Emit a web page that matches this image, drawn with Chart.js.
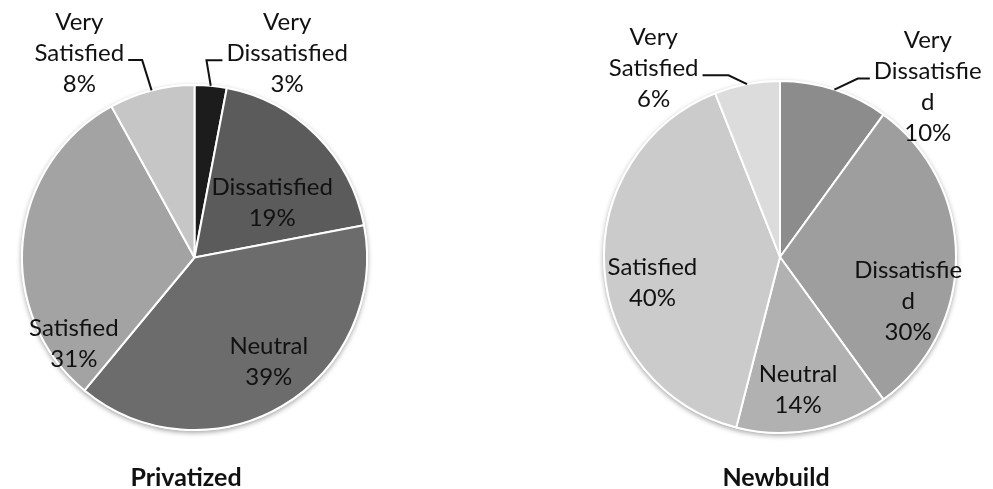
<!DOCTYPE html>
<html>
<head>
<meta charset="utf-8">
<script src="https://cdn.jsdelivr.net/npm/chart.js@4.4.0/dist/chart.umd.min.js"></script>
<style>
  body { margin: 0; background: #fff; width: 993px; height: 489px; position: relative; overflow: hidden; font-family: Lato, "Open Sans", sans-serif; }
  .pane { position: absolute; top: 0; height: 489px; }
  #left { left: 0; width: 400px; }
  #right { left: 400px; width: 593px; }
  .title { position: absolute; top: 462px; font-weight: bold; font-size: 25px; line-height: 28px; color: #111; transform: translateX(-50%); white-space: nowrap; }
</style>
</head>
<body>
<div class="pane" id="left"><canvas id="pieLeft"></canvas></div>
<div class="pane" id="right"><canvas id="pieRight"></canvas></div>
<div class="title" style="left:186px">Privatized</div>
<div class="title" style="left:776px">Newbuild</div>
<script>
// satisfaction survey, share of answers in %
var categories = ['Very Dissatisfied', 'Dissatisfied', 'Neutral', 'Satisfied', 'Very Satisfied'];
var privatizedValues = [3, 19, 39, 31, 8];
var newbuildValues = [10, 30, 14, 40, 6];

// how the category names wrap inside each pie
var privatizedLines = [['Very', 'Dissatisfied'], ['Dissatisfied'], ['Neutral'], ['Satisfied'], ['Very', 'Satisfied']];
var newbuildLines = [['Very', 'Dissatisfie', 'd'], ['Dissatisfie', 'd'], ['Neutral'], ['Satisfied'], ['Very', 'Satisfied']];

var privatizedColors = ['#1c1c1c', '#5b5b5b', '#6c6c6c', '#a3a3a3', '#c6c6c6'];
var newbuildColors = ['#8c8c8c', '#9e9e9e', '#b1b1b1', '#cbcbcb', '#dcdcdc'];

// label placement: fac = distance from centre in radii, shift = degrees off the slice middle,
// elbow = length of the leader's flat part (outside labels only)
var privatizedPlace = [
    { fac: 1.30, shift: 19, elbow: 16 },
    { fac: 0.55, shift: 10 },
    { fac: 0.74, shift: -5 },
    { fac: 0.86, shift: -41 },
    { fac: 1.36, shift: -15, elbow: 14 }
];
var newbuildPlace = [
    { fac: 1.28, shift: 23, elbow: 12 },
    { fac: 0.77, shift: 19 },
    { fac: 0.76, shift: 3 },
    { fac: 0.74, shift: -8 },
    { fac: 1.29, shift: -23, elbow: 26 }
];

var pieShadow = {
    id: 'pieShadow',
    beforeDatasetsDraw: function (chart) {
        var arc = chart.getDatasetMeta(0).data[0];
        var p = arc.getProps(['x', 'y', 'outerRadius'], true);
        var ctx = chart.ctx;
        ctx.save();
        ctx.shadowColor = 'rgba(0,0,0,0.35)';
        ctx.shadowBlur = 5;
        ctx.shadowOffsetY = 2;
        ctx.fillStyle = '#fff';
        ctx.beginPath();
        ctx.arc(p.x, p.y, p.outerRadius + 1, 0, Math.PI * 2);
        ctx.fill();
        ctx.restore();
    }
};

var sliceLabels = {
    id: 'sliceLabels',
    afterDatasetsDraw: function (chart, args, opts) {
        var ctx = chart.ctx;
        var meta = chart.getDatasetMeta(0);
        var values = chart.data.datasets[0].data;
        var lh = opts.lineHeight;
        ctx.save();
        ctx.font = opts.font;
        ctx.fillStyle = opts.color;
        ctx.strokeStyle = opts.color;
        ctx.lineWidth = 2;
        ctx.textAlign = 'center';
        ctx.textBaseline = 'middle';
        meta.data.forEach(function (arc, i) {
            var p = arc.getProps(['x', 'y', 'startAngle', 'endAngle', 'outerRadius'], true);
            var place = opts.place[i];
            var mid = (p.startAngle + p.endAngle) / 2;
            var a = mid + place.shift * Math.PI / 180;
            var cx = p.x + Math.cos(a) * p.outerRadius * place.fac;
            var cy = p.y + Math.sin(a) * p.outerRadius * place.fac;
            var lines = opts.lines[i].concat(values[i] + '%');
            var top = cy - (lines.length - 1) / 2 * lh;
            lines.forEach(function (t, k) {
                ctx.fillText(t, cx, top + k * lh);
            });
            if (place.elbow) {
                // leader from the slice edge to the second text row
                var ex = p.x + Math.cos(mid) * p.outerRadius;
                var ey = p.y + Math.sin(mid) * p.outerRadius;
                var w = ctx.measureText(lines[1]).width;
                var side = cx < ex ? 1 : -1;
                var tx = cx + side * (w / 2 + 4);
                var ly = top + lh + 7;
                ctx.beginPath();
                ctx.moveTo(tx, ly);
                ctx.lineTo(tx + side * place.elbow, ly);
                ctx.lineTo(ex, ey);
                ctx.stroke();
            }
        });
        ctx.restore();
    }
};

function makePie(id, values, colors, lines, place, padding) {
    return new Chart(document.getElementById(id), {
        type: 'pie',
        data: {
            labels: categories,
            datasets: [{
                data: values,
                backgroundColor: colors,
                borderColor: '#ffffff',
                borderWidth: 2
            }]
        },
        options: {
            responsive: true,
            maintainAspectRatio: false,
            animation: false,
            layout: { padding: padding },
            plugins: {
                legend: { display: false },
                tooltip: { enabled: false },
                sliceLabels: {
                    font: '24px Lato, "Open Sans", sans-serif',
                    color: '#111',
                    lineHeight: 31,
                    lines: lines,
                    place: place
                }
            }
        },
        plugins: [pieShadow, sliceLabels]
    });
}

makePie('pieLeft', privatizedValues, privatizedColors, privatizedLines, privatizedPlace,
    { left: 21, right: 32, top: 84, bottom: 58 });
makePie('pieRight', newbuildValues, newbuildColors, newbuildLines, newbuildPlace,
    { left: 203, right: 36, top: 80, bottom: 55 });
</script>
</body>
</html>
